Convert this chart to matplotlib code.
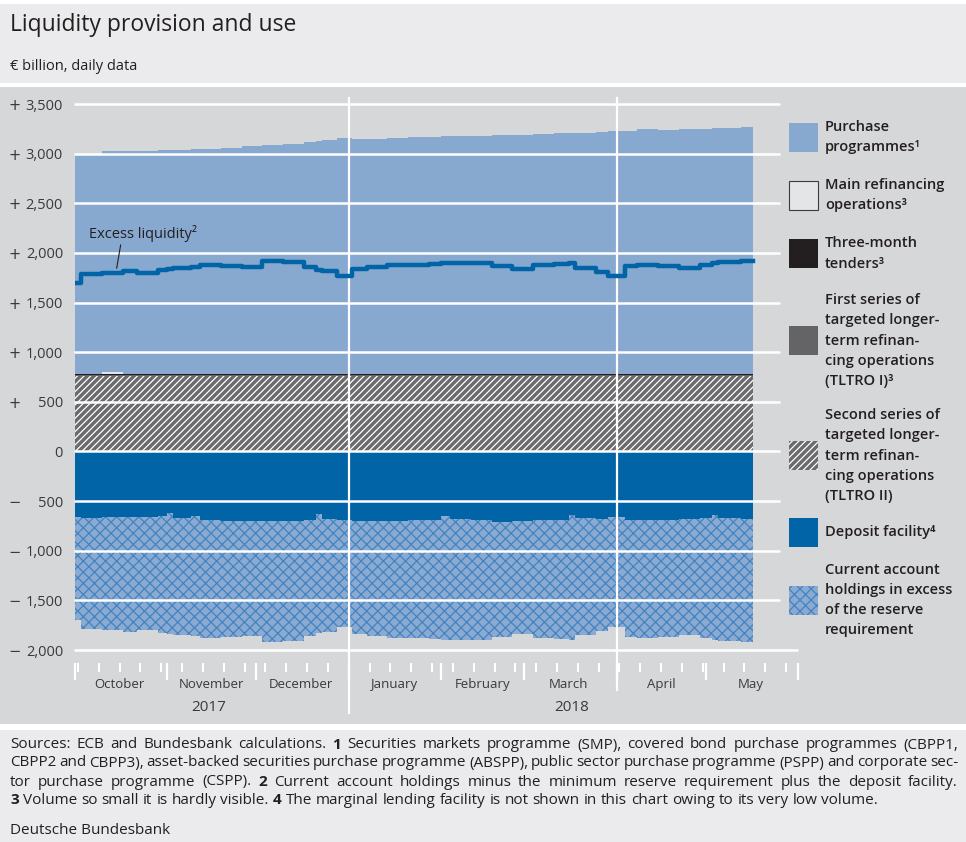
import datetime as dt
import numpy as np
import matplotlib
matplotlib.use("Agg")
import matplotlib.pyplot as plt
import matplotlib.dates as mdates
from matplotlib.patches import Rectangle

plt.rcParams['font.family'] = ['Open Sans', 'DejaVu Sans']
plt.rcParams['hatch.linewidth'] = 0.9

# ---- data (EUR billion, readings at change dates) ----
dates = [dt.date(*d) for d in [
    (2017, 10, 1), (2017, 10, 3), (2017, 10, 10), (2017, 10, 17), (2017, 10, 22), (2017, 10, 29),
    (2017, 11, 1), (2017, 11, 3), (2017, 11, 9), (2017, 11, 12), (2017, 11, 19), (2017, 11, 26),
    (2017, 12, 3), (2017, 12, 10), (2017, 12, 17), (2017, 12, 21), (2017, 12, 23), (2017, 12, 28),
    (2018, 1, 2), (2018, 1, 7), (2018, 1, 14), (2018, 1, 21), (2018, 1, 28),
    (2018, 2, 1), (2018, 2, 4), (2018, 2, 11), (2018, 2, 18), (2018, 2, 25),
    (2018, 3, 4), (2018, 3, 11), (2018, 3, 16), (2018, 3, 18), (2018, 3, 25), (2018, 3, 29),
    (2018, 4, 4), (2018, 4, 8), (2018, 4, 15), (2018, 4, 22), (2018, 4, 29),
    (2018, 5, 3), (2018, 5, 5), (2018, 5, 13), (2018, 5, 17)]]

purchase_programmes = [2206, 2206, 2234, 2243, 2246, 2253,
                       2257, 2259, 2266, 2271, 2281, 2293,
                       2306, 2321, 2339, 2349, 2356, 2379,
                       2364, 2369, 2376, 2386, 2393,
                       2395, 2397, 2401, 2406, 2413,
                       2419, 2426, 2431, 2433, 2441, 2446,
                       2451, 2471, 2459, 2465, 2473,
                       2479, 2483, 2493, 2497]
main_refi = [3, 3, 20, 3, 3, 3,
             3, 3, 3, 3, 3, 3,
             3, 3, 3, 3, 3, 3,
             3, 3, 3, 3, 3,
             3, 3, 3, 3, 3,
             3, 3, 3, 3, 3, 3,
             3, 3, 3, 3, 3,
             3, 3, 3, 3]
three_month = 8
tltro_1 = 6
tltro_2 = 762

deposit_facility = [665, 668, 665, 662, 658, 655,
                    620, 668, 650, 695, 702, 700,
                    700, 697, 692, 625, 685, 695,
                    700, 702, 702, 695, 688,
                    650, 680, 692, 708, 700,
                    695, 690, 640, 670, 682, 662,
                    692, 690, 686, 680, 668,
                    642, 672, 676, 676]
excess_liquidity = [1700, 1785, 1800, 1820, 1795, 1830,
                    1835, 1845, 1860, 1875, 1868, 1860,
                    1915, 1905, 1855, 1825, 1815, 1765,
                    1835, 1858, 1880, 1875, 1885,
                    1895, 1895, 1898, 1865, 1838,
                    1878, 1890, 1900, 1848, 1808, 1765,
                    1865, 1878, 1870, 1848, 1878,
                    1895, 1905, 1915, 1920]

yticks = [3500, 3000, 2500, 2000, 1500, 1000, 500, 0, -500, -1000, -1500, -2000]
months = ['October', 'November', 'December', 'January', 'February', 'March', 'April', 'May']
month_mid = [dt.date(2017, 10, 16), dt.date(2017, 11, 16), dt.date(2017, 12, 16), dt.date(2018, 1, 16),
             dt.date(2018, 2, 15), dt.date(2018, 3, 16), dt.date(2018, 4, 16), dt.date(2018, 5, 16)]
years = ['2017', '2018']
year_mid = [dt.date(2017, 11, 15), dt.date(2018, 3, 17)]

# colours
C_TEXT = '#231f20'
C_AXIS = '#3a3a3c'
C_PURCHASE = '#87a8cf'
C_MRO = '#e4e5e7'
C_3M = '#231f20'
C_TLTRO1 = '#646466'
C_TLTRO2 = '#6b6b6d'
C_DEPOSIT = '#0064a7'
C_CURRENT = '#8aaad1'
C_CURRENT_HATCH = '#4283c2'

W, H = 966, 842
fig = plt.figure(figsize=(W / 100, H / 100), dpi=100)
fig.patch.set_facecolor('white')


def fx(x):
    return x / W


def fy(y):
    return 1 - y / H


# panel backgrounds
for y0, y1, c in [(4, 83, '#ebebed'), (87, 724, '#d6d7d9'), (730, 842, '#ebebed')]:
    fig.add_artist(Rectangle((0, fy(y1)), 1, fy(y0) - fy(y1), transform=fig.transFigure,
                             facecolor=c, lw=0, zorder=-5))

fig.text(fx(10), fy(25), 'Liquidity provision and use', fontsize=16.5, color=C_TEXT, va='center')
fig.text(fx(10), fy(66), '€ billion, daily data', fontsize=10.5, color=C_TEXT, va='center')

ax = fig.add_axes([fx(75), fy(650), fx(798) - fx(75), fy(104) - fy(650)])
ax.set_facecolor('none')

# stacked areas
pos0 = np.zeros(len(dates))
pos1 = pos0 + tltro_2
pos2 = pos1 + tltro_1
pos3 = pos2 + three_month
pos4 = pos3 + np.array(main_refi)
pos5 = pos4 + np.array(purchase_programmes)
neg1 = -np.array(deposit_facility)
neg2 = -np.array(excess_liquidity)

ax.fill_between(dates, pos0, pos1, step='post', facecolor=C_TLTRO2, edgecolor='white',
                hatch='/////', lw=0, zorder=1)
ax.fill_between(dates, pos1, pos2, step='post', color=C_TLTRO1, lw=0, zorder=1)
ax.fill_between(dates, pos2, pos3, step='post', color=C_3M, lw=0, zorder=1)
ax.fill_between(dates, pos3, pos4, step='post', color=C_MRO, lw=0, zorder=1)
ax.fill_between(dates, pos4, pos5, step='post', color=C_PURCHASE, lw=0, zorder=1)
ax.fill_between(dates, pos0, neg1, step='post', color=C_DEPOSIT, lw=0, zorder=1)
ax.fill_between(dates, neg1, neg2, step='post', facecolor=C_CURRENT, edgecolor=C_CURRENT_HATCH,
                hatch='xxx', lw=0, zorder=1)

# white grid
g0 = dt.datetime(2017, 9, 30, 12)
ax.hlines(yticks[:-1], g0, dt.date(2018, 5, 26), color='white', lw=1.8, zorder=2, clip_on=False)
ax.hlines(yticks[-1], g0, dt.date(2018, 6, 1), color='white', lw=1.8, zorder=2, clip_on=False)
ax.axvline(dt.date(2018, 1, 1), ymin=-0.115, ymax=1.011, color='white', lw=1.6, zorder=2.5, clip_on=False)
ax.axvline(dt.date(2018, 4, 1), ymin=-0.073, ymax=1.011, color='white', lw=1.6, zorder=2.5, clip_on=False)

ax.step(dates, excess_liquidity, where='post', color=C_DEPOSIT, lw=3.2, zorder=3)
ax.annotate('Excess liquidity²', xy=(dt.date(2017, 10, 15), 1845),
            xytext=(dt.datetime(2017, 10, 5, 16), 2195), fontsize=10.5, color=C_TEXT,
            ha='left', va='center',
            arrowprops=dict(arrowstyle='-', color=C_TEXT, lw=0.8, relpos=(0.3, 0.05),
                            shrinkA=0, shrinkB=0))

ax.set_xlim(dt.date(2017, 10, 1), dt.date(2018, 6, 1))
ax.set_ylim(-2000, 3500)
for s in ax.spines.values():
    s.set_visible(False)

# y axis: number right-aligned, sign in its own column
ax.set_yticks(yticks)
ax.set_yticklabels([f'{abs(v):,}' for v in yticks])
ax.tick_params(axis='y', length=0, pad=8.6, labelsize=10.5, labelcolor=C_AXIS)
yt = ax.get_yaxis_transform()
for v in yticks:
    if v != 0:
        ax.text(-0.0925, v, '+' if v > 0 else '\u2212', transform=yt, ha='left',
                va='center_baseline', fontsize=10.5, color=C_AXIS, family='DejaVu Sans')

# x axis: white month/week ticks below the plot
ax.spines['bottom'].set_position(('outward', 9.4))
ax.xaxis.set_major_locator(mdates.MonthLocator())
ax.xaxis.set_minor_locator(mdates.WeekdayLocator(byweekday=mdates.MO))
ax.tick_params(axis='x', which='major', direction='out', length=12.2, width=1.6,
               color='white', labelbottom=False)
ax.tick_params(axis='x', which='minor', direction='out', length=6.5, width=1.5,
               color='white', labelbottom=False)
xt = ax.get_xaxis_transform()
for m, d in zip(months, month_mid):
    ax.text(d, -0.064, m, transform=xt, ha='center', va='center', fontsize=9.5, color=C_AXIS)
for yl, d in zip(years, year_mid):
    ax.text(d, -0.1044, yl, transform=xt, ha='center', va='center', fontsize=11, color=C_AXIS)

# legend
legend_items = [
    ('Purchase\nprogrammes¹', 137, dict(facecolor=C_PURCHASE, lw=0)),
    ('Main refinancing\noperations³', 195, dict(facecolor=C_MRO, edgecolor='#3a3a3a', lw=0.8)),
    ('Three-month\ntenders³', 253.5, dict(facecolor=C_3M, lw=0)),
    ('First series of\ntargeted longer-\nterm refinan-\ncing operations\n(TLTRO I)³', 340.5,
     dict(facecolor=C_TLTRO1, lw=0)),
    ('Second series of\ntargeted longer-\nterm refinan-\ncing operations\n(TLTRO II)', 455.5,
     dict(facecolor=C_TLTRO2, edgecolor='white', hatch='/////', lw=0)),
    ('Deposit facility⁴', 532, dict(facecolor=C_DEPOSIT, lw=0)),
    ('Current account\nholdings in excess\nof the reserve\nrequirement', 600,
     dict(facecolor=C_CURRENT, edgecolor=C_CURRENT_HATCH, hatch='xxx', lw=0)),
]
for label, yc, style in legend_items:
    fig.add_artist(Rectangle((fx(789), fy(yc + 14.5)), fx(29), 29 / H,
                             transform=fig.transFigure, zorder=2, **style))
    fig.text(fx(825), fy(yc), label, fontsize=10.5, fontweight='semibold', color=C_TEXT,
             va='center', ha='left', linespacing=1.55)

# footnotes, justified word by word
foot_lines = [
    "Sources: ECB and Bundesbank calculations. *1* Securities markets programme (SMP), covered bond purchase programmes (CBPP1,",
    "CBPP2 and CBPP3), asset-backed securities purchase programme (ABSPP), public sector purchase programme (PSPP) and corporate sec-",
    "tor purchase programme (CSPP). *2* Current account holdings minus the minimum reserve requirement plus the deposit facility.",
    "*3* Volume so small it is hardly visible. *4* The marginal lending facility is not shown in this chart owing to its very low volume.",
]
foot_y = [745, 763, 782, 800]
foot_font = ['Liberation Sans Narrow', 'Open Sans', 'DejaVu Sans']
renderer = fig.canvas.get_renderer()


def make_words(line, size):
    out = []
    for w in line.split(' '):
        bold = len(w) > 2 and w.startswith('*') and w.endswith('*')
        out.append(fig.text(0, 0, w.strip('*') if bold else w, fontsize=size, family=foot_font,
                            fontweight='bold' if bold else 'normal', color=C_TEXT,
                            ha='left', va='center'))
    return out


def measure(texts):
    return [t.get_window_extent(renderer).width for t in texts]


def space_width(size):
    a = fig.text(0, 0, 'x x', fontsize=size, family=foot_font)
    b = fig.text(0, 0, 'xx', fontsize=size, family=foot_font)
    w = a.get_window_extent(renderer).width - b.get_window_extent(renderer).width
    a.remove()
    b.remove()
    return w


# pick the size that makes the last (unjustified) line end near x=876
probe = make_words(foot_lines[3], 10)
natural = sum(measure(probe)) + space_width(10) * (len(probe) - 1)
for t in probe:
    t.remove()
foot_size = 10 * 866 / natural
sp = space_width(foot_size)

for i, (line, y) in enumerate(zip(foot_lines, foot_y)):
    words = make_words(line, foot_size)
    ws = measure(words)
    gap = (948 - sum(ws)) / (len(words) - 1) if i < 3 else sp
    x = 10
    for t, w in zip(words, ws):
        t.set_position((fx(x), fy(y)))
        x += w + gap

fig.text(fx(10), fy(830), 'Deutsche Bundesbank', fontsize=foot_size, family=foot_font,
         color=C_TEXT, va='center')

fig.savefig('out.png', dpi=100, facecolor=fig.get_facecolor())
